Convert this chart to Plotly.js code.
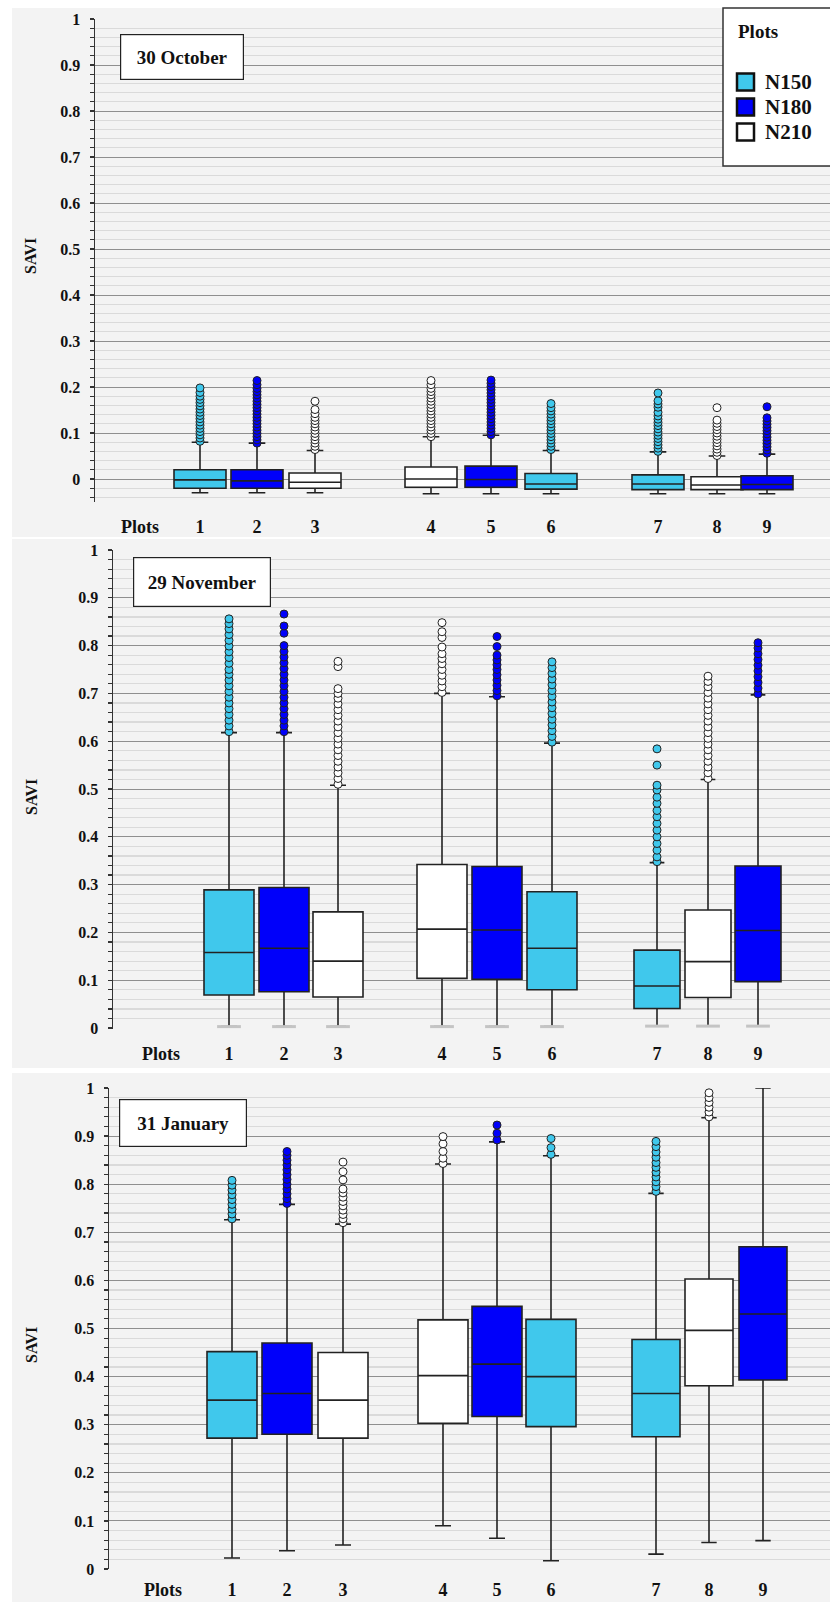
<!DOCTYPE html>
<html>
<head>
<meta charset="utf-8">
<script src="https://cdn.plot.ly/plotly-3.0.1.min.js"></script>
<style>html,body{margin:0;padding:0;background:#fff;}#chart{width:830px;height:1602px;}</style>
</head>
<body>
<div id="chart"></div>
<script>
// ---------- DATA ----------
const plotLabels = ['1','2','3','4','5','6','7','8','9'];
const treatment  = ['N150','N180','N210','N210','N180','N150','N150','N210','N180'];
const treatments = ['N150','N180','N210'];
const dates = ['30 October','29 November','31 January'];

// 30 October
const octQ1     = [-0.020,-0.020,-0.020,-0.018,-0.018,-0.022,-0.023,-0.023,-0.023];
const octMedian = [-0.002,-0.004,-0.007, 0.000,-0.001,-0.011,-0.011,-0.013,-0.012];
const octQ3     = [ 0.020, 0.020, 0.013, 0.026, 0.028, 0.012, 0.009, 0.005, 0.007];
const octLower  = [-0.030,-0.030,-0.030,-0.032,-0.032,-0.032,-0.032,-0.032,-0.032];
const octUpper  = [ 0.080, 0.078, 0.062, 0.092, 0.095, 0.062, 0.059, 0.050, 0.054];
const octOutliers = [
  [0.082,0.089,0.096,0.103,0.110,0.117,0.124,0.131,0.138,0.145,0.152,0.159,0.166,0.173,0.180,0.188,0.198],
  [0.078,0.085,0.092,0.099,0.106,0.113,0.120,0.127,0.134,0.141,0.148,0.155,0.162,0.169,0.176,0.183,0.190,0.197,0.205,0.214],
  [0.064,0.071,0.078,0.085,0.092,0.099,0.106,0.113,0.120,0.127,0.134,0.142,0.151,0.169],
  [0.092,0.099,0.106,0.113,0.120,0.127,0.134,0.141,0.148,0.155,0.162,0.169,0.176,0.183,0.190,0.197,0.205,0.214],
  [0.096,0.103,0.110,0.117,0.124,0.131,0.138,0.145,0.152,0.159,0.166,0.173,0.180,0.187,0.194,0.201,0.208,0.215],
  [0.064,0.071,0.078,0.085,0.092,0.099,0.106,0.113,0.120,0.127,0.134,0.141,0.148,0.155,0.164],
  [0.060,0.067,0.074,0.081,0.088,0.095,0.102,0.109,0.116,0.123,0.130,0.137,0.145,0.156,0.163,0.170,0.187],
  [0.051,0.058,0.065,0.072,0.079,0.086,0.093,0.100,0.107,0.114,0.121,0.128,0.155],
  [0.056,0.063,0.070,0.077,0.084,0.091,0.098,0.105,0.112,0.119,0.126,0.133,0.157]
];

// 29 November
const novQ1     = [0.069,0.076,0.065,0.104,0.102,0.080,0.041,0.064,0.097];
const novMedian = [0.158,0.167,0.140,0.207,0.205,0.167,0.088,0.139,0.204];
const novQ3     = [0.289,0.294,0.243,0.342,0.338,0.285,0.163,0.247,0.339];
const novLower  = [0.003,0.003,0.003,0.003,0.003,0.003,0.004,0.004,0.004];
const novUpper  = [0.618,0.618,0.508,0.700,0.693,0.596,0.346,0.520,0.697];
const novOutliers = [
  [0.620,0.632,0.644,0.656,0.668,0.680,0.692,0.704,0.716,0.728,0.740,0.750,0.763,0.775,0.787,0.799,0.811,0.823,0.835,0.846,0.856],
  [0.620,0.632,0.644,0.656,0.668,0.680,0.692,0.704,0.716,0.728,0.740,0.752,0.764,0.776,0.788,0.800,0.826,0.841,0.866],
  [0.510,0.522,0.534,0.546,0.558,0.570,0.582,0.594,0.606,0.618,0.630,0.642,0.654,0.666,0.678,0.690,0.700,0.710,0.756,0.767],
  [0.702,0.714,0.726,0.738,0.750,0.762,0.773,0.783,0.797,0.817,0.829,0.848],
  [0.695,0.706,0.717,0.728,0.739,0.750,0.760,0.770,0.780,0.798,0.819],
  [0.598,0.610,0.622,0.634,0.646,0.658,0.670,0.682,0.694,0.706,0.718,0.730,0.742,0.754,0.766],
  [0.348,0.358,0.372,0.386,0.400,0.414,0.428,0.442,0.455,0.470,0.483,0.498,0.508,0.550,0.584],
  [0.522,0.534,0.546,0.558,0.570,0.582,0.594,0.606,0.618,0.630,0.642,0.654,0.666,0.678,0.690,0.702,0.714,0.725,0.736],
  [0.699,0.711,0.723,0.735,0.747,0.759,0.771,0.783,0.795,0.806]
];

// 31 January
const janQ1     = [0.272,0.280,0.272,0.303,0.317,0.296,0.275,0.381,0.393];
const janMedian = [0.351,0.365,0.351,0.402,0.426,0.400,0.365,0.496,0.530];
const janQ3     = [0.452,0.470,0.450,0.518,0.546,0.519,0.477,0.603,0.670];
const janLower  = [0.023,0.038,0.050,0.090,0.064,0.017,0.031,0.055,0.059];
const janUpper  = [0.726,0.758,0.717,0.842,0.888,0.859,0.781,0.938,1.000];
const janOutliers = [
  [0.728,0.738,0.748,0.758,0.768,0.778,0.788,0.798,0.808],
  [0.760,0.770,0.780,0.790,0.800,0.810,0.820,0.830,0.840,0.850,0.860,0.868],
  [0.720,0.728,0.737,0.746,0.755,0.764,0.773,0.782,0.790,0.809,0.826,0.846],
  [0.843,0.854,0.868,0.884,0.899],
  [0.892,0.906,0.923],
  [0.862,0.876,0.895],
  [0.785,0.795,0.805,0.815,0.825,0.835,0.845,0.856,0.867,0.878,0.889],
  [0.940,0.950,0.960,0.970,0.980,0.990],
  []
];

// ---------- STYLE / LAYOUT ----------
const colors = {N150:'#40c8ec', N180:'#0000fa', N210:'#ffffff'};
const W = 830, H = 1602;
const FONT = 'Liberation Serif, Times New Roman, serif';

const panelData = [
  {q1:octQ1, med:octMedian, q3:octQ3, lo:octLower, hi:octUpper, out:octOutliers},
  {q1:novQ1, med:novMedian, q3:novQ3, lo:novLower, hi:novUpper, out:novOutliers},
  {q1:janQ1, med:janMedian, q3:janQ3, lo:janLower, hi:janUpper, out:janOutliers}
];
// panel geometry (pixel-based slot axes)
const panelGeom = [
  {left:95,  top:19,   bottom:502,  yrange:[-0.05,1], slots:[200,257,315,431,491,551,658,717,767], plotsSlot:140,
   boxW:[52,52,52,52,52,52,52,52,52], bg:[8,537],   dateBox:{cx:182, cy:57, w:122, h:44}, saviY:256,
   labelStandoff:12, lowCapColor:null},
  {left:113, top:550,  bottom:1029, yrange:[-0.002,1], slots:[229,284,338,442,497,552,657,708,758], plotsSlot:161,
   boxW:[50,50,50,50,50,50,46,46,46], bg:[539,1068], dateBox:{cx:202, cy:582, w:136, h:48}, saviY:797,
   labelStandoff:12, lowCapColor:'#c4c4c4'},
  {left:109, top:1088, bottom:1569, yrange:[0,1], slots:[232,287,343,443,497,551,656,709,763], plotsSlot:163,
   boxW:[50,50,50,50,50,50,48,48,48], bg:[1073,1602], dateBox:{cx:183, cy:1123, w:126, h:46}, saviY:1345,
   labelStandoff:8, lowCapColor:null}
];

const traces = [];
const layout = {
  width: W, height: H,
  margin: {l:0, r:0, t:0, b:0},
  paper_bgcolor: '#ffffff',
  plot_bgcolor: 'rgba(0,0,0,0)',
  showlegend: false,
  shapes: [], annotations: []
};

panelGeom.forEach((g, p) => {
  const d = panelData[p];
  const sfx = p === 0 ? '' : String(p + 1);
  const xa = 'x' + sfx, ya = 'y' + sfx;

  // background of the panel
  layout.shapes.push({type:'rect', xref:'paper', yref:'paper', layer:'below',
    x0: 12/W, x1: 1, y0: 1 - g.bg[1]/H, y1: 1 - g.bg[0]/H,
    fillcolor:'#f3f3f3', line:{width:0}});

  // boxes
  plotLabels.forEach((lab, i) => {
    traces.push({
      type:'box', xaxis:xa, yaxis:ya,
      x:[g.slots[i]], q1:[d.q1[i]], median:[d.med[i]], q3:[d.q3[i]],
      lowerfence:[d.lo[i]], upperfence:[d.hi[i]],
      width: g.boxW[i], whiskerwidth: 0.32,
      fillcolor: colors[treatment[i]],
      line:{color:'#222222', width:1.6},
      boxpoints:false, name:'Plot ' + lab + ' (' + treatment[i] + ')', hoverinfo:'y'
    });
  });
  // faded lower caps (29 November)
  if (g.lowCapColor) {
    traces.push({
      type:'scatter', mode:'markers', xaxis:xa, yaxis:ya,
      x: g.slots, y: d.lo,
      marker:{symbol:'line-ew', size:17, line:{color:g.lowCapColor, width:3}},
      hoverinfo:'skip', cliponaxis:false
    });
  }
  // outliers
  plotLabels.forEach((lab, i) => {
    const ys = d.out[i];
    if (!ys.length) return;
    traces.push({
      type:'scatter', mode:'markers', xaxis:xa, yaxis:ya,
      x: ys.map(() => g.slots[i]), y: ys,
      marker:{symbol:'circle', size:8, color: colors[treatment[i]], line:{color:'#222222', width:1}},
      hoverinfo:'y', cliponaxis:false
    });
  });

  layout['xaxis' + sfx] = {
    domain:[g.left/W, 1], range:[g.left, W], anchor: ya,
    showgrid:false, zeroline:false, showline:false, ticks:'',
    tickmode:'array', tickvals:[g.plotsSlot].concat(g.slots), ticktext:['Plots'].concat(plotLabels),
    tickfont:{family:FONT, size:18, color:'#111', weight:'bold'},
    ticklabelstandoff: g.labelStandoff, fixedrange:true
  };
  layout['yaxis' + sfx] = {
    domain:[1 - g.bottom/H, 1 - g.top/H], range:g.yrange, anchor: xa,
    tick0:0, dtick:0.1, showgrid:true, gridcolor:'#8f8f8f', gridwidth:1,
    zeroline:false, showline:true, linecolor:'#333', linewidth:1.5,
    ticks:'outside', ticklen:4, tickcolor:'#333', tickwidth:1.2,
    minor:{dtick:0.02, tick0:0, showgrid:true, gridcolor:'#dadada', gridwidth:1.2, ticks:'outside', ticklen:4, tickcolor:'#333'},
    tickfont:{family:FONT, size:16, color:'#111', weight:'bold'},
    ticklabelstandoff: 6, fixedrange:true
  };

  // date label box
  layout.annotations.push({xref:'paper', yref:'paper', x:g.dateBox.cx/W, y:1 - g.dateBox.cy/H,
    xanchor:'center', yanchor:'middle', text:dates[p], showarrow:false,
    width:g.dateBox.w - 2, height:g.dateBox.h - 2, bgcolor:'#ffffff', bordercolor:'#222', borderwidth:1.2,
    font:{family:FONT, size:19, color:'#111', weight:'bold'}});
  // y-axis title
  layout.annotations.push({xref:'paper', yref:'paper', x:31/W, y:1 - g.saviY/H,
    xanchor:'center', yanchor:'middle', text:'SAVI', textangle:-90, showarrow:false,
    font:{family:FONT, size:16, color:'#111', weight:'bold'}});
});

// legend (custom box, top right of first panel)
layout.shapes.push({type:'rect', xref:'paper', yref:'paper', x0:723/W, x1:1.01, y0:1 - 166/H, y1:1 - 8/H,
  fillcolor:'#ffffff', line:{color:'#333', width:1.5}});
layout.annotations.push({xref:'paper', yref:'paper', x:736/W, y:1 - 31/H, xanchor:'left', yanchor:'middle',
  text:'Plots', showarrow:false, font:{family:FONT, size:19, color:'#111', weight:'bold'}});
treatments.forEach((t, k) => {
  const cy = 82 + k * 25;
  layout.shapes.push({type:'rect', xref:'paper', yref:'paper', x0:737/W, x1:754/W,
    y0:1 - (cy + 8.5)/H, y1:1 - (cy - 8.5)/H, fillcolor:colors[t], line:{color:'#111', width:2.5}});
  layout.annotations.push({xref:'paper', yref:'paper', x:763/W, y:1 - cy/H, xanchor:'left', yanchor:'middle',
    text:t, showarrow:false, font:{family:FONT, size:21, color:'#111', weight:'bold'}});
});

Plotly.newPlot('chart', traces, layout, {staticPlot:true, displayModeBar:false});
</script>
</body>
</html>
